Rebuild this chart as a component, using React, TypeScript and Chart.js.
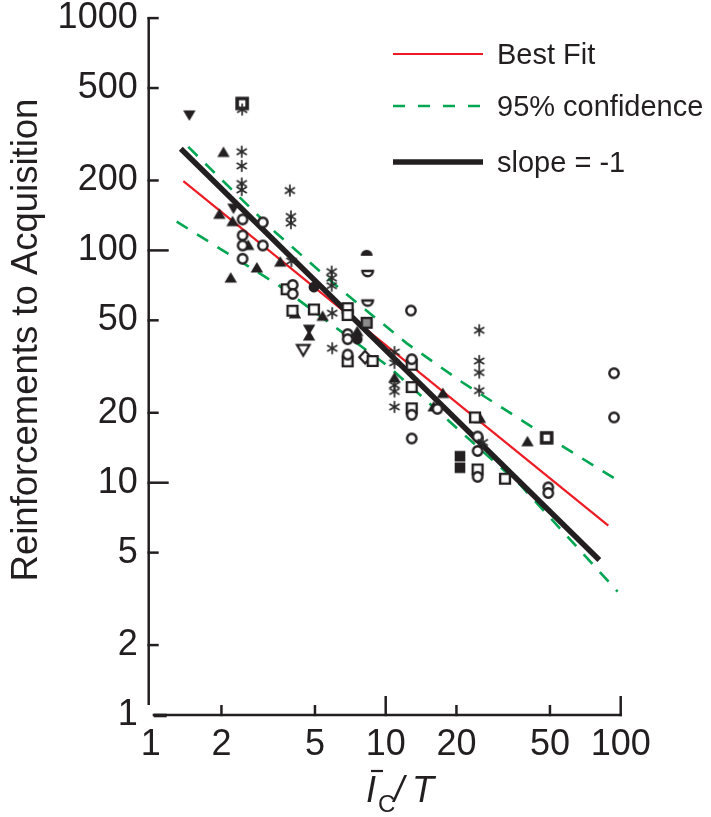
import React, { useEffect, useRef } from 'react';
import { Chart, registerables } from 'chart.js';
Chart.register(...registerables);

const FONT = '"Liberation Sans", Arial, Helvetica, sans-serif';
const INK = '#231f20';
const RED = '#ed1c24';
const GREEN = '#00a651';

// ---- axis ticks ----
const X_TICKS = [1, 2, 5, 10, 20, 50, 100];
const Y_TICKS = [1, 2, 5, 10, 20, 50, 100, 200, 500, 1000];
const Y_TITLE = 'Reinforcements to Acquisition';
const LEGEND_LABELS = ['Best Fit', '95% confidence', 'slope = -1'];

// ---- reference lines ----
const FIT_X = [1.377, 88.6];
const FIT_Y = [198.7, 6.54];
const SLOPE_X = [1.343, 81.1];
const SLOPE_Y = [274, 4.65];
const UPPER_X = [1.445, 3.38, 6.6, 12.3, 21, 50, 96];
const UPPER_Y = [279, 120, 66.4, 39.8, 27.2, 15.5, 10.3];
const LOWER_X = [1.29, 2.83, 3.49, 10.3, 21.7, 37.3, 97];
const LOWER_Y = [133, 81, 71, 31.6, 16.0, 9.8, 3.4];

// ---- data points by marker type ----
const TRI_UP_X = [2.04, 1.96, 2.23, 2.6, 2.19, 2.83, 3.56, 4.11, 5.39, 4.72, 7.57, 10.9, 17.5, 16.0, 25.2, 40.1];
const TRI_UP_Y = [264, 143, 133, 105, 76, 84, 89, 53.3, 52, 42.8, 44.7, 28.2, 24.2, 21.2, 18.9, 15.0];
const TRI_DOWN_X = [1.46, 2.25, 4.72];
const TRI_DOWN_Y = [383, 152, 45.8];
const OPEN_TRI_DOWN_X = [4.46];
const OPEN_TRI_DOWN_Y = [37.4];
const CIRCLE_X = [2.46, 3.0, 2.46, 2.46, 3.0, 2.46, 4.02, 4.02, 6.89, 6.89, 6.89, 12.8, 12.9, 12.9, 12.9, 16.6, 24.6, 24.6, 24.6, 49.2, 49.2, 93.7, 93.7];
const CIRCLE_Y = [136, 132, 116, 105, 105, 92, 71, 65, 43.6, 41.5, 35.6, 55.1, 34, 19.6, 15.5, 20.8, 15.8, 13.7, 10.6, 9.55, 9.03, 29.6, 19.1];
const SQUARE_X = [3.79, 4.01, 4.95, 6.89, 6.89, 6.89, 8.8, 12.9, 12.9, 12.9, 24.0, 24.6, 32.2];
const SQUARE_Y = [68, 55, 55.7, 56.4, 52.7, 33.3, 33.4, 32.2, 25.8, 20.9, 19.1, 11.4, 10.4];
const THICK_SQUARE_X = [2.45, 48.4];
const THICK_SQUARE_Y = [429, 15.6];
const FILLED_SQUARE_X = [20.7, 20.7];
const FILLED_SQUARE_Y = [13.0, 11.6];
const GREY_SQUARE_X = [8.3];
const GREY_SQUARE_Y = [48.8];
const DIAMOND_X = [8.17];
const DIAMOND_Y = [34.7];
const FILLED_CIRCLE_X = [4.95, 7.57];
const FILLED_CIRCLE_Y = [69.5, 41.5];
const DOME_X = [8.3];
const DOME_Y = [96.7];
const BOWL_X = [8.38, 8.38];
const BOWL_Y = [80, 59.7];
const STAR_X = [2.45, 2.44, 2.44, 2.44, 2.44, 3.91, 3.95, 3.95, 3.97, 5.89, 5.89, 5.89, 5.92, 5.92, 10.9, 10.9, 10.9, 10.9, 10.9, 25, 25, 25, 25, 25.9];
const STAR_Y = [404, 266, 231, 194, 182, 181, 140, 131, 90, 81, 76, 70.5, 53.7, 37.9, 36.5, 32.8, 26.3, 24.7, 21.2, 45.3, 33.4, 29.8, 24.9, 14.9];

const pts = (xs: number[], ys: number[]) => xs.map((x, i) => ({ x, y: ys[i] }));

function mk(draw: (c: CanvasRenderingContext2D) => void, size = 20) {
  const cv = document.createElement('canvas');
  cv.width = size;
  cv.height = size;
  const c = cv.getContext('2d')!;
  c.translate(size / 2, size / 2);
  c.strokeStyle = INK;
  c.fillStyle = INK;
  draw(c);
  return cv;
}

function makeMarkers() {
  return {
    circle: mk((c) => { c.beginPath(); c.arc(0, 0, 4.7, 0, Math.PI * 2); c.fillStyle = '#fff'; c.fill(); c.lineWidth = 2.4; c.stroke(); }),
    square: mk((c) => { c.beginPath(); c.rect(-4.9, -4.9, 9.8, 9.8); c.fillStyle = '#fff'; c.fill(); c.lineWidth = 2.4; c.stroke(); }),
    thickSquare: mk((c) => { c.beginPath(); c.rect(-5, -5, 10, 10); c.fillStyle = '#fff'; c.fill(); c.lineWidth = 3.6; c.stroke(); }),
    filledSquare: mk((c) => { c.fillRect(-5.3, -5.3, 10.6, 10.6); }),
    greySquare: mk((c) => { c.beginPath(); c.rect(-4.9, -4.9, 9.8, 9.8); c.fillStyle = '#8c8c8c'; c.fill(); c.lineWidth = 2.4; c.stroke(); }),
    triUp: mk((c) => { c.beginPath(); c.moveTo(0, -6); c.lineTo(6.2, 4.6); c.lineTo(-6.2, 4.6); c.closePath(); c.fill(); }),
    triDown: mk((c) => { c.beginPath(); c.moveTo(0, 6); c.lineTo(6.2, -4.6); c.lineTo(-6.2, -4.6); c.closePath(); c.fill(); }),
    openTriDown: mk((c) => { c.beginPath(); c.moveTo(0, 6); c.lineTo(6.3, -4.6); c.lineTo(-6.3, -4.6); c.closePath(); c.fillStyle = '#fff'; c.fill(); c.lineWidth = 2.2; c.stroke(); }),
    diamond: mk((c) => { c.beginPath(); c.moveTo(0, -6.3); c.lineTo(5.8, 0); c.lineTo(0, 6.3); c.lineTo(-5.8, 0); c.closePath(); c.fillStyle = '#fff'; c.fill(); c.lineWidth = 2.2; c.stroke(); }),
    filledCircle: mk((c) => { c.beginPath(); c.arc(0, 0, 5.4, 0, Math.PI * 2); c.fill(); }),
    dome: mk((c) => { c.beginPath(); c.arc(0, 2, 6, Math.PI, Math.PI * 2); c.closePath(); c.fill(); }),
    bowl: mk((c) => { c.beginPath(); c.moveTo(-5.3, -2); c.lineTo(5.3, -2); c.arc(0, -2, 5.3, 0, Math.PI); c.closePath(); c.fillStyle = '#fff'; c.fill(); c.lineWidth = 2.4; c.stroke(); }),
    star: mk((c) => {
      c.strokeStyle = '#2a2a2a';
      c.lineWidth = 1.7;
      c.lineCap = 'round';
      for (let k = 0; k < 3; k++) {
        const a = Math.PI / 2 + (k * Math.PI) / 3;
        c.beginPath();
        c.moveTo(Math.cos(a) * 5.3, Math.sin(a) * 5.3);
        c.lineTo(-Math.cos(a) * 5.3, -Math.sin(a) * 5.3);
        c.stroke();
      }
    }),
  };
}

const frame = {
  id: 'frame',
  afterDraw(chart: any) {
    const ctx = chart.ctx as CanvasRenderingContext2D;
    const xs = chart.scales.x;
    const ys = chart.scales.y;
    const x0 = xs.getPixelForValue(1);
    const x1 = xs.getPixelForValue(100);
    const y0 = ys.getPixelForValue(1);
    const y1 = ys.getPixelForValue(1000);
    const axX = x0 - 2;
    ctx.save();
    ctx.strokeStyle = INK;
    ctx.lineCap = 'butt';
    ctx.lineWidth = 2.5;
    const ln = (a: number, b: number, c: number, d: number) => { ctx.beginPath(); ctx.moveTo(a, b); ctx.lineTo(c, d); ctx.stroke(); };
    // y axis
    ln(axX, y1 - 1.2, axX, y0 - 10);
    for (const v of Y_TICKS) {
      if (v === 1) continue;
      const y = ys.getPixelForValue(v);
      const len = v === 10 || v === 100 ? 20 : 10;
      ln(axX - 1.2, y, axX + len, y);
    }
    // x axis
    ln(x0 + 2, y0, x1 + 1.2, y0);
    ctx.lineWidth = 3.6;
    ln(x0 + 3, y0 + 0.5, x0 + 16, y0 + 0.5);
    ctx.lineWidth = 2.5;
    for (const v of X_TICKS) {
      if (v === 1) continue;
      const x = xs.getPixelForValue(v);
      const len = v === 10 || v === 100 ? 19 : 10;
      ln(x, y0 + 1.2, x, y0 - len);
    }

    // y title
    ctx.fillStyle = INK;
    ctx.save();
    ctx.translate(27, 340);
    ctx.rotate(-Math.PI / 2);
    ctx.textAlign = 'center';
    ctx.textBaseline = 'middle';
    ctx.font = `36.5px ${FONT}`;
    ctx.fillText(Y_TITLE, 0, 0);
    ctx.restore();

    // x title: I-bar sub C / T
    ctx.textAlign = 'left';
    ctx.textBaseline = 'alphabetic';
    const base = 802;
    let cx = 366;
    ctx.font = `italic 36px ${FONT}`;
    ctx.fillText('I', cx, base);
    ctx.lineWidth = 2.2;
    ln(cx + 5, base - 31, cx + 17, base - 31);
    cx += 12;
    ctx.font = `24px ${FONT}`;
    ctx.fillText('C', cx, base + 10);
    cx += 16;
    ctx.font = `italic 36px ${FONT}`;
    ctx.fillText('/', cx, base);
    cx += 18;
    ctx.fillText('T', cx, base);

    // legend
    const lx0 = 393, lx1 = 483, tx = 497;
    const rows = [54, 106, 162];
    ctx.font = `29px ${FONT}`;
    ctx.textBaseline = 'middle';
    ctx.strokeStyle = RED;
    ctx.lineWidth = 2.2;
    ln(lx0, rows[0], lx1, rows[0]);
    ctx.strokeStyle = GREEN;
    ctx.lineWidth = 2.6;
    ctx.setLineDash([12, 13]);
    ln(lx0, rows[1], lx1, rows[1]);
    ctx.setLineDash([]);
    ctx.strokeStyle = INK;
    ctx.lineWidth = 5.5;
    ln(lx0, rows[2], lx1, rows[2]);
    ctx.fillStyle = INK;
    LEGEND_LABELS.forEach((t, i) => ctx.fillText(t, tx, rows[i] + 2));
    ctx.restore();
  },
};

export default function App() {
  const ref = useRef<HTMLCanvasElement>(null);
  useEffect(() => {
    const M = makeMarkers();
    const markerSet = (data: any[], style: any) => ({
      data,
      pointStyle: style,
      pointRadius: 6,
      pointHoverRadius: 6,
      showLine: false,
      order: 0,
      clip: false,
    });
    const lineSet = (xs: number[], ys: number[], color: string, width: number, dash: number[], order: number) => ({
      data: pts(xs, ys),
      showLine: true,
      borderColor: color,
      borderWidth: width,
      borderDash: dash,
      pointRadius: 0,
      fill: false,
      tension: 0,
      order,
      clip: false,
    });
    const fixTicks = (vals: number[]) => (scale: any) => { scale.ticks = vals.map((v) => ({ value: v })); };
    const chart = new Chart(ref.current!, {
      type: 'scatter',
      data: {
        datasets: [
          markerSet(pts(STAR_X, STAR_Y), M.star),
          markerSet(pts(CIRCLE_X, CIRCLE_Y), M.circle),
          markerSet(pts(SQUARE_X, SQUARE_Y), M.square),
          markerSet(pts(THICK_SQUARE_X, THICK_SQUARE_Y), M.thickSquare),
          markerSet(pts(FILLED_SQUARE_X, FILLED_SQUARE_Y), M.filledSquare),
          markerSet(pts(GREY_SQUARE_X, GREY_SQUARE_Y), M.greySquare),
          markerSet(pts(DIAMOND_X, DIAMOND_Y), M.diamond),
          markerSet(pts(DOME_X, DOME_Y), M.dome),
          markerSet(pts(BOWL_X, BOWL_Y), M.bowl),
          markerSet(pts(FILLED_CIRCLE_X, FILLED_CIRCLE_Y), M.filledCircle),
          markerSet(pts(OPEN_TRI_DOWN_X, OPEN_TRI_DOWN_Y), M.openTriDown),
          markerSet(pts(TRI_DOWN_X, TRI_DOWN_Y), M.triDown),
          markerSet(pts(TRI_UP_X, TRI_UP_Y), M.triUp),
          lineSet(SLOPE_X, SLOPE_Y, INK, 5.5, [], 1),
          lineSet(FIT_X, FIT_Y, RED, 2.2, [], 2),
          lineSet(UPPER_X, UPPER_Y, GREEN, 2.6, [13, 11], 3),
          lineSet(LOWER_X, LOWER_Y, GREEN, 2.6, [13, 11], 3),
        ] as any,
      },
      options: {
        animation: false,
        responsive: false,
        devicePixelRatio: 1,
        events: [],
        layout: { padding: { left: 0, right: 90.3, top: 18.1, bottom: 0 } },
        plugins: { legend: { display: false }, tooltip: { enabled: false }, title: { display: false } },
        scales: {
          x: {
            type: 'logarithmic',
            min: 1,
            max: 100,
            grid: { display: false, drawTicks: false },
            border: { display: false },
            afterBuildTicks: fixTicks(X_TICKS),
            afterFit: (s: any) => { s.height = 102; s.paddingLeft = 0; s.paddingRight = 0; },
            ticks: {
              autoSkip: false,
              maxRotation: 0,
              padding: 12,
              color: INK,
              font: { family: FONT, size: 36, lineHeight: 1 },
              callback: (v: any) => String(v),
            },
          },
          y: {
            type: 'logarithmic',
            min: 1,
            max: 1000,
            grid: { display: false, drawTicks: false },
            border: { display: false },
            afterBuildTicks: fixTicks(Y_TICKS),
            afterFit: (s: any) => { s.width = 150.7; s.paddingTop = 0; s.paddingBottom = 0; },
            ticks: {
              autoSkip: false,
              padding: 13,
              color: INK,
              font: { family: FONT, size: 36, lineHeight: 1 },
              callback: (v: any) => String(v),
            },
          },
        },
      } as any,
      plugins: [frame],
    });
    return () => chart.destroy();
  }, []);
  return (
    <div style={{ position: 'fixed', left: 0, top: 0, width: 711, height: 817, background: '#fff' }}>
      <canvas ref={ref} width={711} height={817} style={{ display: 'block', width: 711, height: 817 }} />
    </div>
  );
}
